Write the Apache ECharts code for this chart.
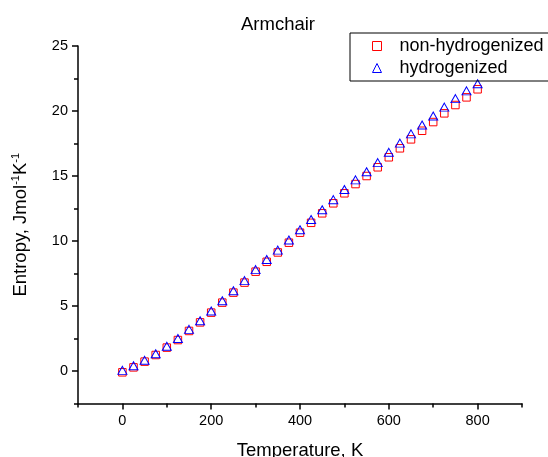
<!DOCTYPE html>
<html>
<head>
<meta charset="utf-8">
<script src="https://cdn.jsdelivr.net/npm/echarts@6/dist/echarts.min.js"></script>
<style>html,body{margin:0;padding:0;background:#fff;}#c{width:548px;height:457px;}</style>
</head>
<body>
<div id="c"></div>
<script>
const temperature = [0,25,50,75,100,125,150,175,200,225,250,275,300,325,350,375,400,425,450,475,500,525,550,575,600,625,650,675,700,725,750,775,800];
const nonHydrogenized = [-0.1,0.28,0.72,1.23,1.8,2.38,3.08,3.74,4.49,5.26,6.03,6.8,7.64,8.4,9.12,9.87,10.64,11.4,12.13,12.9,13.67,14.38,15.0,15.67,16.44,17.13,17.82,18.48,19.15,19.82,20.46,21.05,21.67];
const hydrogenized = [0.05,0.4,0.82,1.33,1.9,2.5,3.2,3.87,4.62,5.4,6.17,6.95,7.8,8.58,9.3,10.08,10.87,11.65,12.4,13.18,13.96,14.7,15.33,16.03,16.82,17.53,18.24,18.92,19.61,20.3,20.95,21.55,22.1];
const seriesNames = ['non-hydrogenized','hydrogenized'];
const xMajorTicks = [0,200,400,600,800];
const xMinorTicks = [-100,100,300,500,700,900];
const yMajorTicks = [0,5,10,15,20,25];
const yMinorTicks = [-2.5,2.5,7.5,12.5,17.5,22.5];

const font = 'Liberation Sans, Arial, sans-serif';
const chart = echarts.init(document.getElementById('c'), null, {renderer:'canvas'});
const pair = (xs, ys) => xs.map((x,i)=>[x, ys[i]]);

const axisLineStyle = {color:'#000', width:1.5};
chart.setOption({
  animation:false,
  backgroundColor:'#fff',
  title:{text:'Armchair', left:241, top:15, padding:0,
    textStyle:{fontFamily:font, fontSize:18.5, fontWeight:'normal', color:'#000'}},
  legend:{
    left:350, top:33, orient:'vertical',
    padding:[4,16,4,22], itemGap:4, itemWidth:9, itemHeight:9,
    borderColor:'#000', borderWidth:1, borderRadius:0,
    textStyle:{fontFamily:font, fontSize:18, color:'#000', lineHeight:18, padding:[0,0,0,13]},
    itemStyle:{borderWidth:1},
    data:seriesNames
  },
  grid:{left:78, right:26, top:46, bottom:53.5, containLabel:false, outerBoundsMode:'none'},
  xAxis:[{
    type:'value', min:-100, max:900, position:'bottom',
    name:'Temperature, K', nameLocation:'middle', nameGap:38,
    nameTextStyle:{fontFamily:font, fontSize:18.5, color:'#000'},
    axisLine:{show:true, onZero:false, lineStyle:axisLineStyle},
    axisTick:{show:true, inside:false, length:6, lineStyle:{color:'#000', width:1.5}, customValues:xMajorTicks},
    axisLabel:{show:true, margin:10, fontFamily:font, fontSize:14.5, color:'#000', customValues:xMajorTicks},
    splitLine:{show:false}
  },{
    type:'value', min:-100, max:900, position:'bottom',
    axisLine:{show:false, onZero:false},
    axisTick:{show:true, inside:false, length:4, lineStyle:{color:'#000', width:1.5}, customValues:xMinorTicks},
    axisLabel:{show:false},
    splitLine:{show:false}
  }],
  yAxis:[{
    type:'value', min:-2.5, max:25, position:'left',
    name:'Entropy, Jmol{sup|-1}K{sup|-1}', nameLocation:'middle', nameGap:46, nameRotate:90,
    nameTextStyle:{fontFamily:font, fontSize:18.5, color:'#000', lineHeight:22,
      rich:{sup:{fontFamily:font, fontSize:11, color:'#000', verticalAlign:'top', lineHeight:22}}},
    axisLine:{show:true, onZero:false, lineStyle:axisLineStyle},
    axisTick:{show:true, inside:false, length:6, lineStyle:{color:'#000', width:1.5}, customValues:yMajorTicks},
    axisLabel:{show:true, margin:10, fontFamily:font, fontSize:14.5, color:'#000', customValues:yMajorTicks},
    splitLine:{show:false}
  },{
    type:'value', min:-2.5, max:25, position:'left',
    axisLine:{show:false, onZero:false},
    axisTick:{show:true, inside:false, length:4, lineStyle:{color:'#000', width:1.5}, customValues:yMinorTicks},
    axisLabel:{show:false},
    splitLine:{show:false}
  }],
  series:[{
    name:seriesNames[0], type:'scatter', xAxisIndex:0, yAxisIndex:0,
    symbol:'rect', symbolSize:7.5,
    itemStyle:{color:'rgba(0,0,0,0)', borderColor:'#ff0000', borderWidth:1, opacity:1},
    data:pair(temperature, nonHydrogenized)
  },{
    name:seriesNames[1], type:'scatter', xAxisIndex:0, yAxisIndex:0,
    symbol:'triangle', symbolSize:[9,8],
    itemStyle:{color:'rgba(0,0,0,0)', borderColor:'#0000ff', borderWidth:1, opacity:1},
    data:pair(temperature, hydrogenized)
  }]
});
</script>
</body>
</html>
